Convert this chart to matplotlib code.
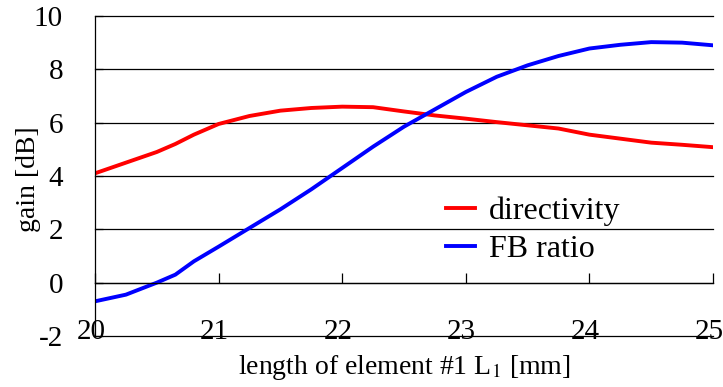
import matplotlib.pyplot as plt
from matplotlib.transforms import offset_copy

# datos
length_mm = [20.0, 20.25, 20.5, 20.65, 20.8, 21.0, 21.25, 21.5, 21.75, 22.0, 22.25,
             22.5, 22.75, 23.0, 23.25, 23.5, 23.75, 24.0, 24.25, 24.5, 24.75, 25.0]
directivity = [4.1, 4.5, 4.9, 5.2, 5.55, 5.95, 6.25, 6.45, 6.55, 6.6, 6.58,
               6.42, 6.27, 6.15, 6.02, 5.9, 5.78, 5.55, 5.4, 5.25, 5.17, 5.08]
fb_ratio = [-0.7, -0.45, 0.0, 0.3, 0.8, 1.35, 2.05, 2.75, 3.5, 4.3, 5.1,
            5.85, 6.5, 7.15, 7.72, 8.15, 8.5, 8.78, 8.92, 9.02, 9.0, 8.9]
x_ticks = [20, 21, 22, 23, 24, 25]
y_ticks = [-2, 0, 2, 4, 6, 8, 10]

plt.rcParams['font.family'] = ['Liberation Serif', 'DejaVu Serif']
plt.rcParams['mathtext.fontset'] = 'stix'

fig = plt.figure(figsize=(7.23, 3.87), dpi=100)
ax = fig.add_axes([0.1314, 0.1318, 0.8548, 0.8269])

ax.plot(length_mm, directivity, color='#ff0000', lw=2.8, label='directivity')
ax.plot(length_mm, fb_ratio, color='#0000ff', lw=2.8, label='FB ratio')

ax.set_xlim(20, 25)
ax.set_ylim(-2, 10)
ax.set_yticks(y_ticks)
ax.set_yticklabels([str(v) for v in y_ticks], fontsize=21)
ax.yaxis.grid(True, color='black', lw=0.9)
for gl in ax.get_ygridlines():
    gl.set_clip_on(False)
ax.set_axisbelow(True)

# eje x cruzando en y=0, marcas hacia arriba
ax.spines['bottom'].set_position(('data', 0))
ax.spines['bottom'].set_linewidth(0.9)
ax.spines['left'].set_linewidth(0.9)
ax.spines['top'].set_visible(False)
ax.spines['right'].set_visible(False)
ax.set_xticks(x_ticks)
ax.tick_params(axis='x', direction='in', length=7, width=0.9, labelbottom=False)
ax.tick_params(axis='y', direction='in', length=6, width=0.9, pad=23)

# etiquetas del eje x sobre la linea de -2
lbl_tr = offset_copy(ax.transData, fig=fig, x=-3, y=-2.5, units='points')
for xv in x_ticks:
    ax.text(xv, -2, str(xv), transform=lbl_tr, ha='center', va='baseline', fontsize=21)

ax.set_xlabel(r'length of element #1 L$_\mathrm{1}$ [mm]', fontsize=20)
ax.xaxis.set_label_coords(0.5, -0.053)
ax.set_ylabel('gain [dB]', fontsize=20)
ax.yaxis.set_label_coords(-0.087, 0.49)

ax.legend(loc='center left', bbox_to_anchor=(0.568, 0.33), frameon=False, fontsize=23,
          borderpad=0, borderaxespad=0, handlelength=0.9, handletextpad=0.45,
          labelspacing=0.25)

plt.savefig('out.png', dpi=100)
